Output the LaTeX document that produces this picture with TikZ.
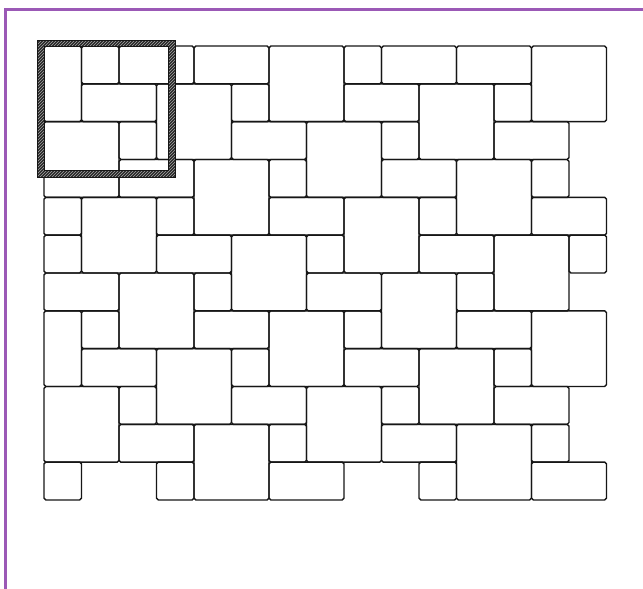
\documentclass[tikz,border=0pt]{standalone}
\usetikzlibrary{patterns}
\definecolor{frameviolet}{HTML}{9B59B6}
\definecolor{ink}{HTML}{161616}
\begin{document}
\begin{tikzpicture}[x=1pt,y=-1pt,
  tile/.style={draw=ink,line width=1.4pt,rounded corners=1.8pt},
  border/.style={draw=frameviolet,line width=2.6pt}]
\useasboundingbox (0,0) rectangle (643,589);
\fill[white] (0,0) rectangle (643,589);
% purple border
\draw[border] (5.4,589) -- (5.4,9.2) -- (643,9.2);
% tiles: column, row, width, height
\foreach \c/\r/\w/\h in {
 0/0/1/2, 1/0/1/1, 2/0/2/1, 4/0/2/1, 6/0/2/2, 8/0/1/1, 9/0/2/1, 11/0/2/1, 13/0/2/2,
 1/1/2/1, 3/1/2/2, 5/1/1/1, 8/1/2/1, 10/1/2/2, 12/1/1/1,
 0/2/2/2, 2/2/1/1, 5/2/2/1, 7/2/2/2, 9/2/1/1, 12/2/2/1,
 2/3/2/1, 4/3/2/2, 6/3/1/1, 9/3/2/1, 11/3/2/2, 13/3/1/1,
 0/4/1/1, 1/4/2/2, 3/4/1/1, 6/4/2/1, 8/4/2/2, 10/4/1/1, 13/4/2/1,
 0/5/1/1, 3/5/2/1, 5/5/2/2, 7/5/1/1, 10/5/2/1, 12/5/2/2, 14/5/1/1,
 0/6/2/1, 2/6/2/2, 4/6/1/1, 7/6/2/1, 9/6/2/2, 11/6/1/1,
 0/7/1/2, 1/7/1/1, 4/7/2/1, 6/7/2/2, 8/7/1/1, 11/7/2/1, 13/7/2/2,
 1/8/2/1, 3/8/2/2, 5/8/1/1, 8/8/2/1, 10/8/2/2, 12/8/1/1,
 0/9/2/2, 2/9/1/1, 5/9/2/1, 7/9/2/2, 9/9/1/1, 12/9/2/1,
 2/10/2/1, 4/10/2/2, 6/10/1/1, 9/10/2/1, 11/10/2/2, 13/10/1/1,
 0/11/1/1, 3/11/1/1, 6/11/2/1, 10/11/1/1, 13/11/2/1}
{
  \draw[tile] ({44+37.5*\c},{46+37.83*\r}) rectangle ({44+37.5*(\c+\w)},{46+37.83*(\r+\h)});
}
% hatched frame
\fill[black!85,even odd rule] (37,40) rectangle (175,177.5) (44,46.5) rectangle (168,170.5);
\fill[pattern=north east lines,pattern color=black!35,even odd rule] (37,40) rectangle (175,177.5) (44,46.5) rectangle (168,170.5);
\draw[ink,line width=1pt] (37,40) rectangle (175,177.5);
\draw[ink,line width=1pt] (44,46.5) rectangle (168,170.5);
\end{tikzpicture}
\end{document}
